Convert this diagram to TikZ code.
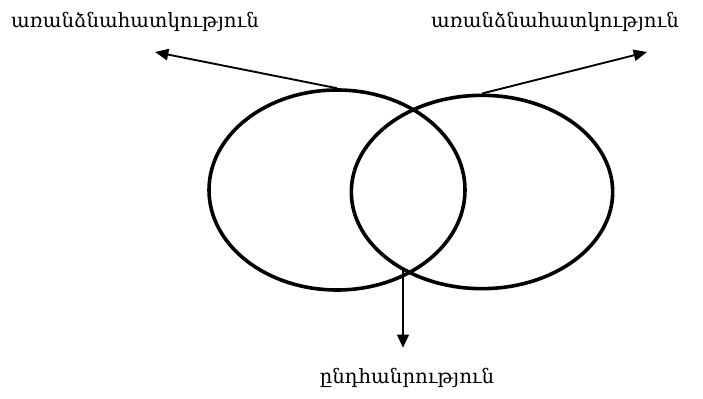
\documentclass[tikz,border=0pt]{standalone}
\usepackage{fontspec}
\newfontfamily\armfont{DejaVu Serif}
\usetikzlibrary{shapes.geometric, arrows.meta, positioning}

\tikzset{
    setshape/.style={draw, ellipse, line width=2.7pt, inner sep=0pt},
    armlabel/.style={font=\armfont\fontsize{14.8}{17}\selectfont, inner sep=0pt},
    pointer/.style={->, line width=1.4pt}
}

\begin{document}
\begin{tikzpicture}[x=0.75pt, y=0.75pt, >={Triangle[length=10pt, width=8.5pt]}]
        \useasboundingbox (0,0) rectangle (703,399);

        % ==========================================
        % The two sets
        % ==========================================
        \node[setshape, minimum width=192pt, minimum height=150pt] (leftset) at (337,209) {};
        \node[setshape, minimum width=196pt, minimum height=145pt] (rightset) at (482,207) {};

        % ==========================================
        % Labels
        % ==========================================
        \node[armlabel] (lefttext) at (135,377) {առանձնահատկություն};
        \node[armlabel] (righttext) at (555,377) {առանձնահատկություն};
        \node[armlabel] (commontext) at (407,21) {ընդհանրություն};

        % Arrow ends
        \coordinate (lefttip) at (155,347);
        \coordinate (righttip) at (647,347);
        \coordinate (meet) at (403,131);
        \coordinate (downtip) at (403,51);

        % ==========================================
        % Arrows
        % ==========================================
        \draw[pointer] (leftset.north) -- (lefttip);
        \draw[pointer] (rightset.north) -- (righttip);
        \draw[pointer, line width=2.2pt] (meet) -- (downtip);

    \end{tikzpicture}
\end{document}
